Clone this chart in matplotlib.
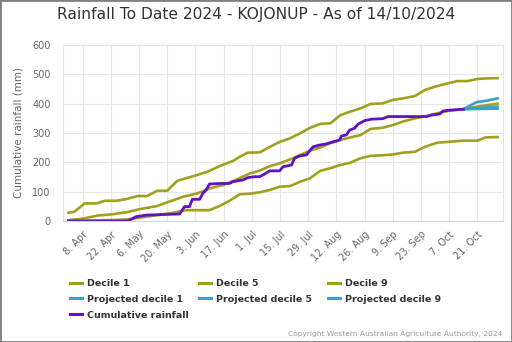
import matplotlib
matplotlib.use('Agg')
import matplotlib.pyplot as plt
from matplotlib.lines import Line2D
from matplotlib.patches import Rectangle

# days counted from 1 April 2024
d9_days = [0, 3, 8, 14, 18, 24, 29, 34, 39, 44, 49, 54, 58, 64, 69, 75, 82, 85, 89, 95, 100, 105,
           110, 115, 120, 125, 130, 135, 140, 145, 150, 156, 161, 166, 172, 177, 183, 188, 193,
           198, 203, 207, 213]
d9_vals = [28, 32, 60, 60, 69, 69, 75, 85, 85, 103, 103, 137, 145, 157, 168, 187, 206, 219, 233,
           234, 253, 270, 282, 299, 318, 331, 333, 361, 373, 384, 399, 401, 413, 418, 426, 447,
           460, 469, 477, 477, 484, 486, 487]

d5_days = [0, 7, 15, 22, 29, 35, 44, 50, 57, 64, 70, 77, 83, 90, 95, 100, 105, 110, 115, 120, 125,
           130, 135, 140, 145, 150, 156, 161, 166, 172, 178, 183, 189, 196, 203, 213]
d5_vals = [3, 8, 19, 23, 30, 40, 51, 66, 83, 94, 111, 123, 140, 162, 172, 187, 197, 210, 225, 240,
           251, 265, 276, 285, 293, 314, 318, 327, 339, 350, 358, 367, 376, 381, 390, 400]

d1_days = [0, 15, 25, 30, 44, 52, 58, 70, 75, 80, 85, 90, 95, 100, 105, 110, 115, 120, 125, 130,
           135, 140, 145, 150, 156, 161, 166, 172, 177, 183, 189, 196, 203, 207, 213]
d1_vals = [0, 2, 4, 6, 20, 28, 37, 37, 51, 69, 91, 93, 98, 106, 117, 119, 134, 146, 171, 180, 191,
           199, 214, 222, 224, 227, 233, 236, 253, 267, 270, 274, 274, 285, 286]

cum_days = [0, 29.5, 33.7, 38.6, 55.2, 57.6, 60.1, 61.5, 65.1, 66.7, 68.4, 70, 75, 80, 81.6, 86.6,
            89.1, 92.4, 94.9, 96.6, 99.9, 104.8, 106.5, 110.7, 112.3, 114.8, 118.1, 121.4, 124.7,
            128, 131.3, 134.6, 135.5, 137.9, 139.6, 142, 143.7, 147, 150.4, 156.1, 158.6, 177.6,
            180.1, 184.3, 185.9, 189.3, 196]
cum_vals = [0, 0, 15, 20, 24, 49, 49, 74, 74, 94, 106, 126, 128, 128, 134, 140, 148, 151, 151, 157,
            171, 171, 185, 191, 214, 222, 225, 253, 259, 263, 270, 276, 290, 293, 310, 316, 330,
            342, 347, 349, 356, 356, 361, 365, 375, 378, 381]

p1_days = [196, 203, 213]
p1_vals = [381, 382, 383]
p5_days = [196, 203, 213]
p5_vals = [381, 385, 390]
p9_days = [196, 202.5, 207.4, 213]
p9_vals = [381, 405, 410, 418]

tick_days = [7, 21, 35, 49, 63, 77, 91, 105, 119, 133, 147, 161, 175, 189, 203]
tick_labels = ['8. Apr', '22. Apr', '6. May', '20. May', '3. Jun', '17. Jun', '1. Jul', '15. Jul',
               '29. Jul', '12. Aug', '26. Aug', '9. Sep', '23. Sep', '7. Oct', '21. Oct']

olive = '#a0a01e'
cyan = '#3a9fcb'
purple = '#6310c9'

plt.rcParams['font.family'] = ['DejaVu Sans']
fig = plt.figure(figsize=(5.12, 3.42), dpi=100)
ax = fig.add_axes([63 / 512, 1 - 221 / 342, 440 / 512, 176 / 342])

lw = 1.9
ax.plot(d1_days, d1_vals, color=olive, lw=lw, solid_joinstyle='round')
ax.plot(d5_days, d5_vals, color=olive, lw=lw, solid_joinstyle='round')
ax.plot(d9_days, d9_vals, color=olive, lw=lw, solid_joinstyle='round')
ax.plot(p1_days, p1_vals, color=cyan, lw=lw)
ax.plot(p5_days, p5_vals, color=cyan, lw=lw)
ax.plot(p9_days, p9_vals, color=cyan, lw=lw)
ax.plot(cum_days, cum_vals, color=purple, lw=2.0, solid_joinstyle='round')

ax.set_xlim(-2.7, 215.7)
ax.set_ylim(0, 600)
ax.set_yticks([0, 100, 200, 300, 400, 500, 600])
ax.set_xticks(tick_days)
ax.set_xticklabels(tick_labels, rotation=45, ha='right', va='top', rotation_mode='anchor')
ax.tick_params(axis='both', length=0, colors='#666666', labelsize=7)
ax.tick_params(axis='x', pad=6)
ax.tick_params(axis='y', pad=9)
ax.grid(True, color='#e6e6e6', lw=0.8)
ax.set_axisbelow(True)
for s in ['left', 'right', 'top']:
    ax.spines[s].set_color('#e6e6e6')
ax.spines['bottom'].set_color('#ccd6eb')
ax.set_ylabel('Cumulative rainfall (mm)', color='#666666', fontsize=7.5, labelpad=6)

fig.text(0.5, 1 - 15 / 342, 'Rainfall To Date 2024 - KOJONUP - As of 14/10/2024',
         ha='center', va='center', fontsize=11.2, color='#333333')

# legend, three columns
cols = [
    ([olive, cyan, purple], ['Decile 1', 'Projected decile 1', 'Cumulative rainfall'], 70),
    ([olive, cyan], ['Decile 5', 'Projected decile 5'], 199),
    ([olive, cyan], ['Decile 9', 'Projected decile 9'], 328),
]
for colors, labels, x in cols:
    handles = [Line2D([0], [0], color=c, lw=2.2) for c in colors]
    leg = fig.legend(handles, labels, loc='upper left', bbox_to_anchor=(x / 512, 1 - 279 / 342),
                     frameon=False, fontsize=6.8, handlelength=1.3, handletextpad=0.55,
                     labelspacing=0.72, borderpad=0, borderaxespad=0)
    for t in leg.get_texts():
        t.set_fontweight('bold')
        t.set_color('#333333')

fig.text(502 / 512, 1 - 334 / 342, 'Copyright Western Australian Agriculture Authority, 2024',
         ha='right', va='center', fontsize=5.4, color='#999999')

fig.patches.append(Rectangle((0, 0), 1, 1, transform=fig.transFigure, fill=False,
                             edgecolor='#808080', lw=2))

fig.savefig('out.png', dpi=100)
